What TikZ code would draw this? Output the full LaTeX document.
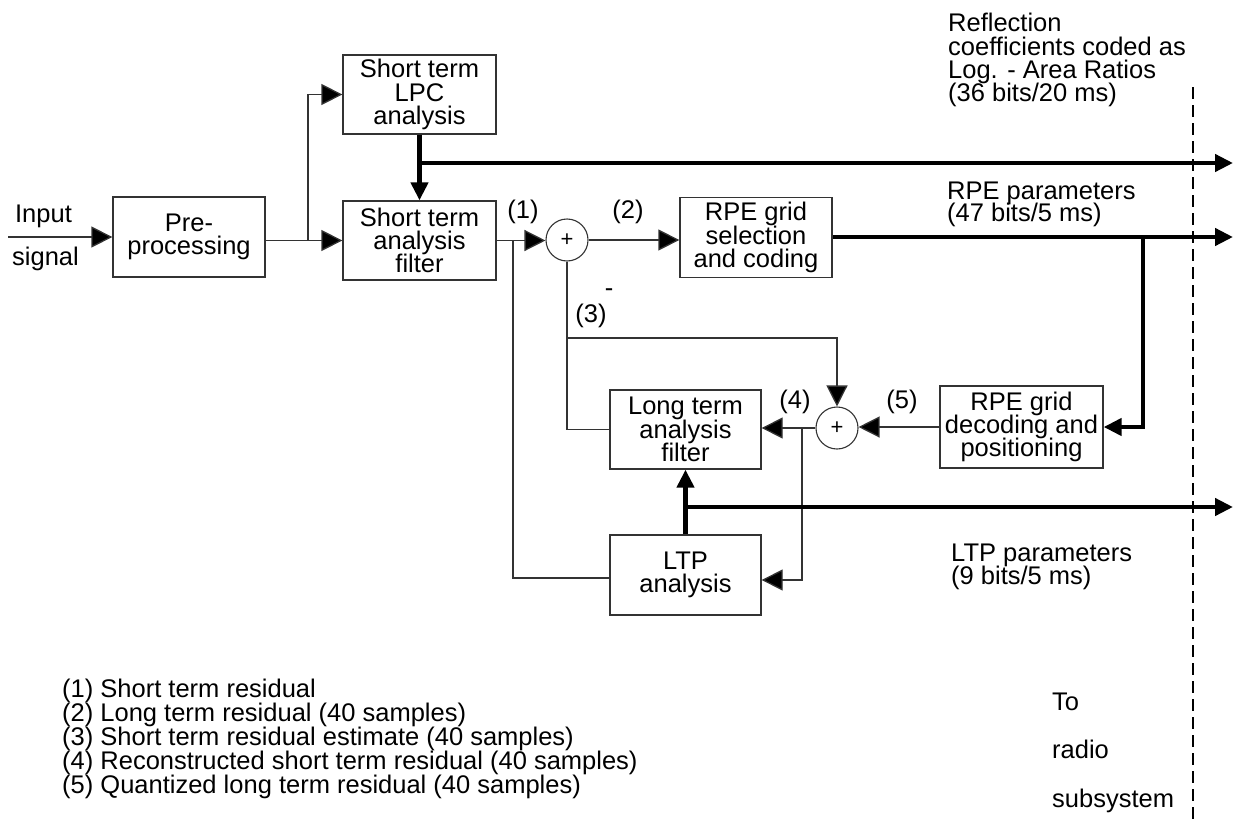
\documentclass[tikz,border=0pt]{standalone}
\usepackage{fontspec}
\setmainfont{Liberation Sans}
\usetikzlibrary{arrows.meta}
\newcommand\tightls{\lineskiplimit=-50pt\relax}
\lineskiplimit=-50pt
\begin{document}
\begin{tikzpicture}[x=1pt,y=-1pt,
  font=\fontsize{25.5}{23.3}\selectfont,
  box/.style={draw=black!80, line width=1.3pt, inner sep=0pt, align=center},
  sumnode/.style={circle, draw=black!80, line width=1.1pt, minimum size=42pt, inner sep=0pt, font=\fontsize{22}{22}\selectfont},
  thinline/.style={draw=black!80, line width=1.3pt},
  thinarr/.style={draw=black!80, line width=1.3pt, -{Triangle[length=21pt,width=21pt,fill=black]}},
  thickarr/.style={draw=black, line width=4.3pt, -{Triangle[length=18pt,width=17pt]}},
  lbl/.style={inner sep=0pt, anchor=base},
  txt/.style={inner sep=0pt, align=left, anchor=base west},
  boundary/.style={draw=black, line width=1.5pt, dash pattern=on 12pt off 6pt}]
\useasboundingbox (0,0) rectangle (1239,827);
% boxes
\node[box, minimum width=152pt, minimum height=80pt] (pre) at (189,237) {Pre-\\processing};
\node[box, minimum width=153pt, minimum height=79pt] (lpc) at (419.5,94.5) {Short term\\LPC\\analysis};
\node[box, minimum width=153pt, minimum height=79pt] (filt) at (419.5,240.5) {Short term\\analysis\\filter};
\node[sumnode] (s1) at (567,240) {+};
\node[box, minimum width=152pt, minimum height=80pt] (sel) at (756,237.5) {RPE grid\\selection\\and coding};
\node[box, minimum width=151pt, minimum height=79pt] (ltf) at (685.5,429.5) {Long term\\analysis\\filter};
\node[box, minimum width=151pt, minimum height=80pt] (ltp) at (685.5,575) {LTP\\analysis};
\node[sumnode] (s2) at (837,428) {+};
\node[box, minimum width=163pt, minimum height=82pt] (dec) at (1021.5,427) {RPE grid\\decoding and\\positioning};
% junctions and free ends
\coordinate (inp) at (8,237);
\coordinate (j1) at (308,240.5);
\coordinate (j2) at (419.5,163);
\coordinate (o1) at (1233,163);
\coordinate (j3) at (513,240.5);
\coordinate (j4) at (567,338);
\coordinate (j5) at (1143,237);
\coordinate (o2) at (1233,237);
\coordinate (j6) at (802,428);
\coordinate (j7) at (685.5,507);
\coordinate (o3) at (1233,507);
\coordinate (d1) at (1193,87);
\coordinate (d2) at (1193,822);
% connectors
\draw[thinarr] (inp) -- (pre.west);
\draw[thinarr] (pre.east |- filt.west) -- (filt.west);
\draw[thinarr] (j1) |- (lpc.west);
\draw[thickarr] (lpc.south) -- (filt.north);
\draw[thickarr] (j2) -- (o1);
\draw[thinarr] (filt.east) -- (filt.east -| s1.west);
\draw[thinline] (j3) |- ([yshift=-3pt]ltp.west);
\draw[thinarr] (s1.east) -- (s1.east -| sel.west);
\draw[thinline] (s1.south) |- (ltf.west);
\draw[thinarr] (j4) -| (s2.north);
\draw[thickarr] (sel.east |- o2) -- (o2);
\draw[thickarr] (j5) |- (dec.east);
\draw[thinarr] (dec.west) -- (dec.west -| s2.east);
\draw[thinarr] (s2.west) -- (s2.west -| ltf.east);
\draw[thinarr] (j6) |- ([yshift=-5pt]ltp.east);
\draw[thickarr] (ltp.north) -- (ltf.south);
\draw[thickarr] (j7) -- (o3);
\draw[boundary] (d1) -- (d2);
% labels
\node[lbl] (inlab) at (43.5,222) {Input};
\node[lbl] (siglab) at (45.5,265) {signal};
\node[lbl] (l1) at (523,218) {(1)};
\node[lbl] (l2) at (628,218) {(2)};
\node[lbl] (l3) at (591,322) {(3)};
\node[lbl] (lm) at (609,296) {-};
\node[lbl] (l4) at (795,408) {(4)};
\node[lbl] (l5) at (902,408) {(5)};
\node[txt] (refl) at (948,101.7) {Reflection\\coefficients coded as\\Log. - Area Ratios\\(36 bits/20 ms)};
\node[txt, font=\fontsize{25.5}{22.3}\selectfont\tightls] (rpep) at (947,221.6) {RPE parameters\\(47 bits/5 ms)};
\node[txt, font=\fontsize{25.5}{22.5}\selectfont\tightls] (ltpp) at (951,584) {LTP parameters\\(9 bits/5 ms)};
\node[txt, font=\fontsize{25.5}{24}\selectfont\tightls] (leg) at (62,793) {(1) Short term residual\\(2) Long term residual (40 samples)\\(3) Short term residual estimate (40 samples)\\(4) Reconstructed short term residual (40 samples)\\(5) Quantized long term residual (40 samples)};
\node[txt, font=\fontsize{25.5}{48.5}\selectfont] (radio) at (1052,807) {To\\radio\\subsystem};
\end{tikzpicture}
\end{document}
